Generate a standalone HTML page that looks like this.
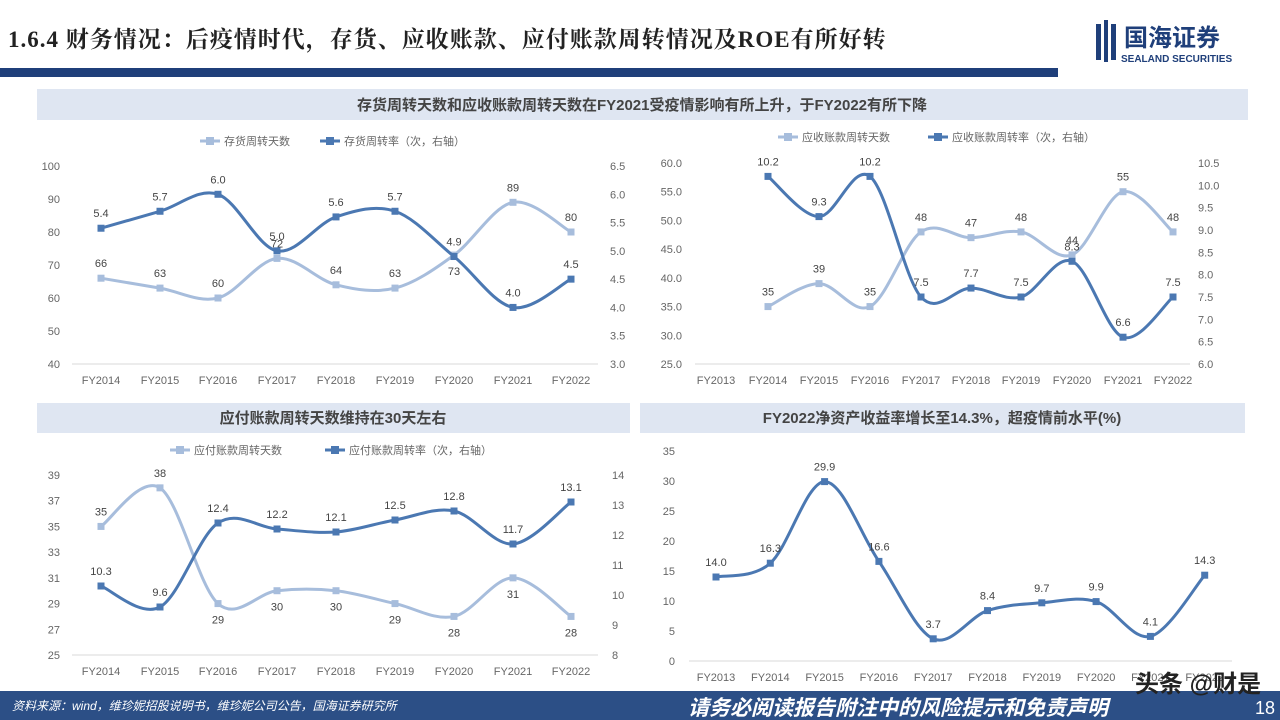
<!DOCTYPE html>
<html><head><meta charset="utf-8"><style>
body{margin:0;width:1280px;height:720px;overflow:hidden;background:#fff;font-family:"Liberation Sans","Noto Sans CJK SC",sans-serif}
svg{display:block}
</style></head><body>
<svg id="s" width="1280" height="720" xmlns="http://www.w3.org/2000/svg" font-family="Liberation Sans, Noto Sans CJK SC, sans-serif">
<text x="8" y="47" font-size="23" font-weight="bold" fill="#222" font-family="Liberation Serif, Noto Serif CJK SC, serif" letter-spacing="1">1.6.4 财务情况：后疫情时代，存货、应收账款、应付账款周转情况及ROE有所好转</text>
<rect x="0" y="68" width="1058" height="9" fill="#1f3f7a"/>
<g fill="#1f3f7a">
<rect x="1096" y="24" width="5" height="36"/><rect x="1104" y="20" width="4" height="42"/><rect x="1111" y="24" width="5" height="36"/>
<text x="1124" y="46" font-size="24" font-weight="bold">国海证券</text>
<text x="1121" y="62" font-size="10" font-weight="bold">SEALAND SECURITIES</text>
</g>
<rect x="37" y="89" width="1211" height="31" fill="#dfe6f2"/>
<text x="642" y="110" font-size="15" font-weight="bold" fill="#444" text-anchor="middle">存货周转天数和应收账款周转天数在FY2021受疫情影响有所上升，于FY2022有所下降</text>
<rect x="37" y="403" width="593" height="30" fill="#dfe6f2"/>
<text x="333" y="423" font-size="15" font-weight="bold" fill="#444" text-anchor="middle">应付账款周转天数维持在30天左右</text>
<rect x="640" y="403" width="605" height="30" fill="#dfe6f2"/>
<text x="942" y="423" font-size="15" font-weight="bold" fill="#444" text-anchor="middle">FY2022净资产收益率增长至14.3%，超疫情前水平(%)</text>
<rect x="0" y="691" width="1280" height="29" fill="#2c4f86"/>
<text x="12" y="710" font-size="12" fill="#fff" font-style="italic">资料来源：wind，维珍妮招股说明书，维珍妮公司公告，国海证券研究所</text>
<text x="688" y="715" font-size="21" font-weight="bold" font-style="italic" fill="#fff">请务必阅读报告附注中的风险提示和免责声明</text>
<text x="1255" y="714" font-size="18" fill="#fff">18</text>
<g id="g"></g>
<text x="1135" y="692" font-size="24" fill="#222" font-weight="bold">头条 @财是</text>
</svg>
<script>
const g=document.getElementById('g');let h='';
const L='#a7bddc',D='#4b78b2';
function path(pts){let d='M'+pts[0][0]+','+pts[0][1];for(let i=0;i<pts.length-1;i++){const p0=pts[i-1]||pts[i],p1=pts[i],p2=pts[i+1],p3=pts[i+2]||p2;d+=` C${p1[0]+(p2[0]-p0[0])/6},${p1[1]+(p2[1]-p0[1])/6} ${p2[0]-(p3[0]-p1[0])/6},${p2[1]-(p3[1]-p1[1])/6} ${p2[0]},${p2[1]}`;}return d;}
function chart(o){
 const{xs,cats,y0,y1,lmin,lmax,lstep,ldec,lx,rx,rmin,rmax,rstep,rdec,series,base}=o;
 h+=`<line x1="${base[0]}" x2="${base[1]}" y1="${y1}" y2="${y1}" stroke="#d9d9d9"/>`;
 for(let v=lmin;v<=lmax+1e-9;v+=lstep){const y=y1-(v-lmin)/(lmax-lmin)*(y1-y0);h+=`<text x="${lx}" y="${y+4}" font-size="11" fill="#666" text-anchor="end">${v.toFixed(ldec)}</text>`;}
 if(rx)for(let v=rmin;v<=rmax+1e-9;v+=rstep){const y=y1-(v-rmin)/(rmax-rmin)*(y1-y0);h+=`<text x="${rx}" y="${y+4}" font-size="11" fill="#666">${v.toFixed(rdec)}</text>`;}
 cats.forEach((c,i)=>h+=`<text x="${xs[i]}" y="${y1+20}" font-size="11" fill="#666" text-anchor="middle">${c}</text>`);
 series.forEach(s=>{const mn=s.r?rmin:lmin,mx=s.r?rmax:lmax;const pts=s.d.map((v,i)=>[xs[i+(s.off||0)],y1-(v-mn)/(mx-mn)*(y1-y0)]);
  h+=`<path d="${path(pts)}" fill="none" stroke="${s.c}" stroke-width="3"/>`;
  pts.forEach((p,i)=>{h+=`<rect x="${p[0]-3.5}" y="${p[1]-3.5}" width="7" height="7" fill="${s.c}"/>`;const lab=s.lab?s.lab[i]:s.d[i].toFixed(s.dec);const dy=(s.pos&&s.pos[i]==='b')?20:-11;h+=`<text x="${p[0]}" y="${p[1]+dy}" font-size="11" fill="#444" text-anchor="middle">${lab}</text>`;});
 });
 if(o.leg)o.leg.forEach(l=>{h+=`<line x1="${l[0]}" x2="${l[0]+20}" y1="${l[1]}" y2="${l[1]}" stroke="${l[2]}" stroke-width="3"/><rect x="${l[0]+6}" y="${l[1]-4}" width="8" height="8" fill="${l[2]}"/><text x="${l[0]+24}" y="${l[1]+4}" font-size="11" fill="#666">${l[3]}</text>`;});
}
const x1=[101,160,218,277,336,395,454,513,571];
const c1=['FY2014','FY2015','FY2016','FY2017','FY2018','FY2019','FY2020','FY2021','FY2022'];
chart({xs:x1,cats:c1,y0:166,y1:364,lmin:40,lmax:100,lstep:10,ldec:0,lx:60,rx:610,rmin:3,rmax:6.5,rstep:0.5,rdec:1,base:[72,598],
 series:[{d:[66,63,60,72,64,63,73,89,80],c:L,dec:0,pos:['','','','','','','b','','']},{d:[5.4,5.7,6.0,5.0,5.6,5.7,4.9,4.0,4.5],c:D,r:1,dec:1}],
 leg:[[200,141,L,'存货周转天数'],[320,141,D,'存货周转率（次，右轴）']]});
const x2=[716,768,819,870,921,971,1021,1072,1123,1173];
const c2=['FY2013','FY2014','FY2015','FY2016','FY2017','FY2018','FY2019','FY2020','FY2021','FY2022'];
chart({xs:x2,cats:c2,y0:163,y1:364,lmin:25,lmax:60,lstep:5,ldec:1,lx:682,rx:1198,rmin:6,rmax:10.5,rstep:0.5,rdec:1,base:[695,1190],
 series:[{d:[35,39,35,48,47,48,44,55,48],off:1,c:L,dec:0},{d:[10.2,9.3,10.2,7.5,7.7,7.5,8.3,6.6,7.5],off:1,c:D,r:1,dec:1}],
 leg:[[778,137,L,'应收账款周转天数'],[928,137,D,'应收账款周转率（次，右轴）']]});
chart({xs:x1,cats:c1,y0:475,y1:655,lmin:25,lmax:39,lstep:2,ldec:0,lx:60,rx:612,rmin:8,rmax:14,rstep:1,rdec:0,base:[72,598],
 series:[{d:[35,38,29,30,30,29,28,31,28],c:L,dec:0,pos:['','','b','b','b','b','b','b','b']},{d:[10.3,9.6,12.4,12.2,12.1,12.5,12.8,11.7,13.1],c:D,r:1,dec:1}],
 leg:[[170,450,L,'应付账款周转天数'],[325,450,D,'应付账款周转率（次，右轴）']]});
const x4=[0,1,2,3,4,5,6,7,8,9].map(i=>716+54.3*i);
chart({xs:x4,cats:c2,y0:451,y1:661,lmin:0,lmax:35,lstep:5,ldec:0,lx:675,base:[689,1232],
 series:[{d:[14.0,16.3,29.9,16.6,3.7,8.4,9.7,9.9,4.1,14.3],c:D,dec:1}]});
g.innerHTML=h;
</script>
</body></html>
